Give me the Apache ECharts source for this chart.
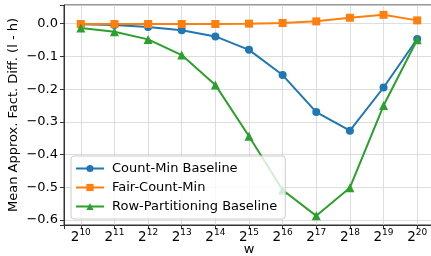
<!DOCTYPE html>
<html><head><meta charset="utf-8">
<script src="https://cdn.jsdelivr.net/npm/echarts@6/dist/echarts.min.js"></script>
<style>html,body{margin:0;padding:0;background:#fff}#c{width:431px;height:256px}</style>
</head><body><div id="c"></div>
<script>
const exponents = [10,11,12,13,14,15,16,17,18,19,20];
const countMin = [-0.002,-0.004,-0.010,-0.020,-0.039,-0.080,-0.157,-0.270,-0.327,-0.195,-0.047];
const fairCountMin = [-0.001,-0.001,-0.001,-0.001,-0.001,0.000,0.002,0.007,0.018,0.027,0.010];
const rowPartitioning = [-0.013,-0.025,-0.048,-0.096,-0.187,-0.344,-0.508,-0.587,-0.501,-0.250,-0.049];
const yTicks = [0.0,-0.1,-0.2,-0.3,-0.4,-0.5,-0.6];
const seriesNames = ['Count-Min Baseline','Fair-Count-Min','Row-Partitioning Baseline'];

const font = 'DejaVu Sans';
const chart = echarts.init(document.getElementById('c'), null, {renderer:'canvas'});
const pair = arr => exponents.map((e,i)=>[e, arr[i]]);
const isInt = v => Math.abs(v - Math.round(v)) < 1e-6;
const onTick = v => yTicks.some(t => Math.abs(t - v) < 1e-6);
const gridLine = {show:true, lineStyle:{color:'#d6d6d6', width:0.8}};
chart.setOption({
  animation:false,
  grid:{left:64, top:5, right:-3, bottom:31, show:true, borderColor:'#333', borderWidth:1,
        outerBoundsMode:'none', containLabel:false},
  xAxis:{type:'value', min:9.5, max:20.5, splitNumber:11,
    name:'w', nameLocation:'middle', nameGap:25, nameMoveOverlap:false,
    nameTextStyle:{fontFamily:font, fontSize:13, color:'#000', verticalAlign:'middle'},
    axisLine:{show:true, onZero:false, lineStyle:{color:'#333'}},
    axisTick:{show:true, length:4, lineStyle:{color:'#333'}},
    splitLine:gridLine,
    axisLabel:{margin:3, color:'#000', fontFamily:font,
      formatter: v => isInt(v) ? '{b|2}{s|' + Math.round(v) + '}' : '',
      rich:{b:{fontSize:13.5, fontFamily:font, color:'#000', verticalAlign:'bottom', lineHeight:16},
            s:{fontSize:9, fontFamily:font, color:'#000', verticalAlign:'top', lineHeight:16, padding:[0,0,8,0]}}}
  },
  yAxis:{type:'value', min:-0.615, max:0.057, splitNumber:7,
    name:'Mean Approx. Fact. Diff. (l - h)', nameLocation:'middle', nameGap:50, nameMoveOverlap:false,
    nameTextStyle:{fontFamily:font, fontSize:13, color:'#000', verticalAlign:'middle'},
    axisLine:{show:true, lineStyle:{color:'#333'}},
    axisTick:{show:true, length:4, lineStyle:{color:'#333'}},
    splitLine:gridLine,
    axisLabel:{margin:6, color:'#000', fontFamily:font, fontSize:13,
      formatter: v => onTick(v) ? (Math.abs(v)<1e-9 ? '0.0' : v.toFixed(1).replace('-', '\u2212')) : ''}
  },
  legend:{left:71, top:156, orient:'vertical', itemGap:6, itemWidth:28, itemHeight:9,
    padding:[6,8,6,4], borderColor:'#ccc', borderWidth:1, borderRadius:3,
    backgroundColor:'rgba(255,255,255,0.8)',
    textStyle:{fontFamily:font, fontSize:13, color:'#000', padding:[0,0,0,3]},
    data:seriesNames},
  series:[
    {name:seriesNames[0], type:'line', data:pair(countMin), color:'#1f77b4',
      symbol:'circle', symbolSize:8, lineStyle:{width:2}, clip:false},
    {name:seriesNames[1], type:'line', data:pair(fairCountMin), color:'#ff7f0e',
      symbol:'rect', symbolSize:8, lineStyle:{width:2}, clip:false},
    {name:seriesNames[2], type:'line', data:pair(rowPartitioning), color:'#2ca02c',
      symbol:'triangle', symbolSize:9, lineStyle:{width:2}, clip:false}
  ]
});
</script></body></html>
